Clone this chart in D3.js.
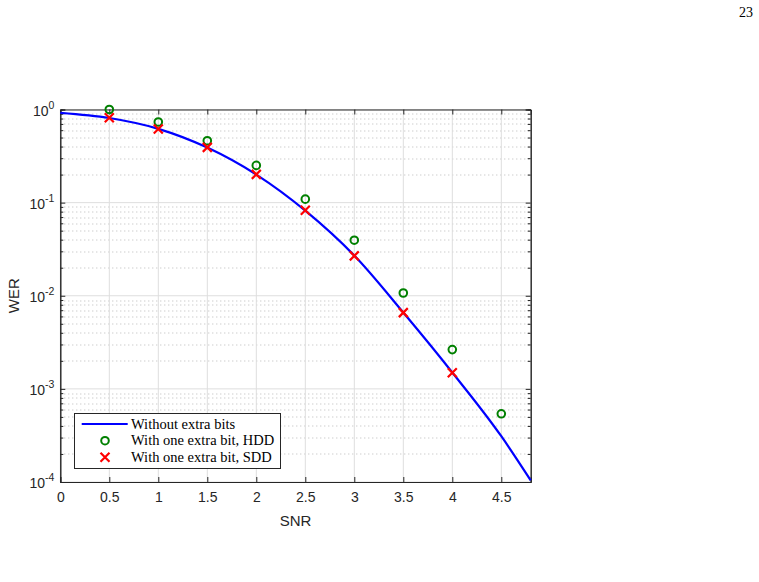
<!DOCTYPE html>
<html>
<head>
<meta charset="utf-8">
<script src="https://cdn.jsdelivr.net/npm/d3@7"></script>
<style>
  body { margin: 0; background: #fff; }
  svg { display: block; }
</style>
</head>
<body>
<div id="chart"></div>
<script>
// SNR values where markers were simulated
var snrPoints = [0.5, 1, 1.5, 2, 2.5, 3, 3.5, 4, 4.5];

// WER with one extra bit, hard decision decoding
var werHdd = [1.0, 0.734, 0.462, 0.251, 0.109, 0.0395, 0.0107, 0.00264, 0.00054];

// WER with one extra bit, soft decision decoding (no point at 4.5)
var snrSdd = [0.5, 1, 1.5, 2, 2.5, 3, 3.5, 4];
var werSdd = [0.816, 0.617, 0.392, 0.201, 0.083, 0.0268, 0.00659, 0.00149];

// WER without extra bits (curve)
var snrCurve = [0, 0.5, 1, 1.5, 2, 2.5, 3, 3.5, 4, 4.5, 4.8];
var werCurve = [0.92, 0.81, 0.62, 0.39, 0.2, 0.082, 0.027, 0.0066, 0.0015, 0.00031, 0.000104];

var xTicks = [0, 0.5, 1, 1.5, 2, 2.5, 3, 3.5, 4, 4.5];
var yDecades = [-4, -3, -2, -1, 0];

var legendLabels = ["Without extra bits", "With one extra bit, HDD", "With one extra bit, SDD"];

var main = function () {
    "use strict";

    var W = 759, H = 582;
    var margin = {top: 109.5, left: 60.3, right: 759 - 530.7, bottom: 582 - 482};
    var width = W - margin.left - margin.right,
        height = H - margin.top - margin.bottom;

    var axisColor = "#262626";
    var font = "'Liberation Sans', Arial, Helvetica, sans-serif";
    var serif = "'Liberation Serif', 'Times New Roman', serif";

    var svg = d3.select("#chart").append("svg")
        .attr("width", W)
        .attr("height", H);

    // page number
    svg.append("text")
        .attr("x", 753).attr("y", 17)
        .attr("text-anchor", "end")
        .style("font-family", serif)
        .style("font-size", "14px")
        .style("fill", "#000")
        .text("23");

    var g = svg.append("g")
        .attr("transform", "translate(" + margin.left + "," + margin.top + ")");

    var x = d3.scaleLinear().domain([0, 4.8]).range([0, width]);
    var y = d3.scaleLog().domain([1e-4, 1]).range([height, 0]);

    // minor values for the log axis
    var minorY = [];
    yDecades.forEach(function (d) {
        if (d === 0) return;
        for (var k = 2; k <= 9; k++) minorY.push(k * Math.pow(10, d));
    });

    // minor grid (dotted)
    g.append("g").selectAll("line")
        .data(minorY)
        .enter().append("line")
        .attr("x1", 0).attr("x2", width)
        .attr("y1", function (d) { return Math.round(y(d)) + 0.5; })
        .attr("y2", function (d) { return Math.round(y(d)) + 0.5; })
        .attr("stroke", "#b8b8b8")
        .attr("stroke-width", 1)
        .attr("stroke-dasharray", "1,3");

    // major grid
    g.append("g").selectAll("line")
        .data(xTicks)
        .enter().append("line")
        .attr("x1", function (d) { return x(d); })
        .attr("x2", function (d) { return x(d); })
        .attr("y1", 0).attr("y2", height)
        .attr("stroke", "#dedede")
        .attr("stroke-width", 1);

    g.append("g").selectAll("line")
        .data(yDecades)
        .enter().append("line")
        .attr("x1", 0).attr("x2", width)
        .attr("y1", function (d) { return y(Math.pow(10, d)); })
        .attr("y2", function (d) { return y(Math.pow(10, d)); })
        .attr("stroke", "#dedede")
        .attr("stroke-width", 1);

    // axes with inward ticks on all four sides
    var xAxisB = d3.axisBottom(x).tickValues(xTicks).tickSize(-5).tickPadding(10)
        .tickFormat(function (d) { return d; });
    var xAxisT = d3.axisTop(x).tickValues(xTicks).tickSize(-5).tickFormat("");
    var yAxisL = d3.axisLeft(y).tickValues(yDecades.map(function (d) { return Math.pow(10, d); }))
        .tickSize(-5).tickFormat("");
    var yAxisR = d3.axisRight(y).tickValues(yDecades.map(function (d) { return Math.pow(10, d); }))
        .tickSize(-5).tickFormat("");
    var yMinorL = d3.axisLeft(y).tickValues(minorY).tickSize(-3).tickFormat("");
    var yMinorR = d3.axisRight(y).tickValues(minorY).tickSize(-3).tickFormat("");

    var styleAxis = function (sel) {
        sel.selectAll("path").attr("stroke", axisColor);
        sel.selectAll("line").attr("stroke", axisColor);
        sel.selectAll("text")
            .style("font-family", font)
            .style("font-size", "14px")
            .attr("fill", axisColor);
    };

    g.append("g").attr("transform", "translate(0," + height + ")").call(xAxisB).call(styleAxis);
    g.append("g").call(xAxisT).call(styleAxis);
    g.append("g").call(yAxisL).call(styleAxis);
    g.append("g").attr("transform", "translate(" + width + ",0)").call(yAxisR).call(styleAxis);
    g.append("g").call(yMinorL).call(styleAxis);
    g.append("g").attr("transform", "translate(" + width + ",0)").call(yMinorR).call(styleAxis);
    g.selectAll(".domain").attr("stroke", axisColor).attr("stroke-width", 1);

    // y tick labels as 10^n with superscripts
    var yLab = g.append("g");
    yDecades.forEach(function (d) {
        var t = yLab.append("text")
            .attr("x", -6)
            .attr("y", y(Math.pow(10, d)) + 6)
            .attr("text-anchor", "end")
            .style("font-family", font)
            .style("font-size", "14px")
            .attr("fill", axisColor);
        t.append("tspan").text("10");
        t.append("tspan").attr("dy", -7).style("font-size", "10.5px").text(d);
    });

    // axis labels
    g.append("text")
        .attr("x", width / 2).attr("y", height + 44)
        .attr("text-anchor", "middle")
        .style("font-family", font).style("font-size", "15px")
        .attr("fill", axisColor)
        .text("SNR");

    g.append("text")
        .attr("transform", "translate(" + (-41) + "," + (height / 2) + ") rotate(-90)")
        .attr("text-anchor", "middle")
        .style("font-family", font).style("font-size", "15px")
        .attr("fill", axisColor)
        .text("WER");

    // curve
    var curveData = snrCurve.map(function (s, i) { return {x: s, y: werCurve[i]}; });
    var line = d3.line()
        .x(function (d) { return x(d.x); })
        .y(function (d) { return y(d.y); })
        .curve(d3.curveMonotoneX);

    g.append("path")
        .datum(curveData)
        .attr("fill", "none")
        .attr("stroke", "#0000ff")
        .attr("stroke-width", 2.2)
        .attr("d", line);

    // HDD circles
    g.append("g").selectAll("circle")
        .data(snrPoints.map(function (s, i) { return {x: s, y: werHdd[i]}; }))
        .enter().append("circle")
        .attr("cx", function (d) { return x(d.x); })
        .attr("cy", function (d) { return y(d.y); })
        .attr("r", 3.8)
        .attr("fill", "none")
        .attr("stroke", "#008000")
        .attr("stroke-width", 2);

    // SDD crosses
    var cross = function (sel, size) {
        sel.append("path")
            .attr("d", "M" + (-size) + "," + (-size) + "L" + size + "," + size +
                       "M" + (-size) + "," + size + "L" + size + "," + (-size))
            .attr("stroke", "#ff0000")
            .attr("stroke-width", 2.2)
            .attr("fill", "none");
    };
    g.append("g").selectAll("g")
        .data(snrSdd.map(function (s, i) { return {x: s, y: werSdd[i]}; }))
        .enter().append("g")
        .attr("transform", function (d) { return "translate(" + x(d.x) + "," + y(d.y) + ")"; })
        .call(cross, 4.5);

    // legend
    var lg = svg.append("g");
    lg.append("rect")
        .attr("x", 74.5).attr("y", 413.5)
        .attr("width", 206).attr("height", 55)
        .attr("fill", "#fff")
        .attr("stroke", axisColor)
        .attr("stroke-width", 1);

    var rows = [424, 440.7, 457.3];
    lg.append("line")
        .attr("x1", 81.7).attr("x2", 127.7)
        .attr("y1", rows[0]).attr("y2", rows[0])
        .attr("stroke", "#0000ff").attr("stroke-width", 2.2);
    lg.append("circle")
        .attr("cx", 105).attr("cy", rows[1]).attr("r", 3.8)
        .attr("fill", "none").attr("stroke", "#008000").attr("stroke-width", 2);
    lg.append("g").attr("transform", "translate(105," + rows[2] + ")").call(cross, 4.5);

    legendLabels.forEach(function (lab, i) {
        lg.append("text")
            .attr("x", 131).attr("y", rows[i] + 4.5)
            .style("font-family", serif)
            .style("font-size", "14.5px")
            .attr("fill", "#000")
            .text(lab);
    });
};

main();
</script>
</body>
</html>
